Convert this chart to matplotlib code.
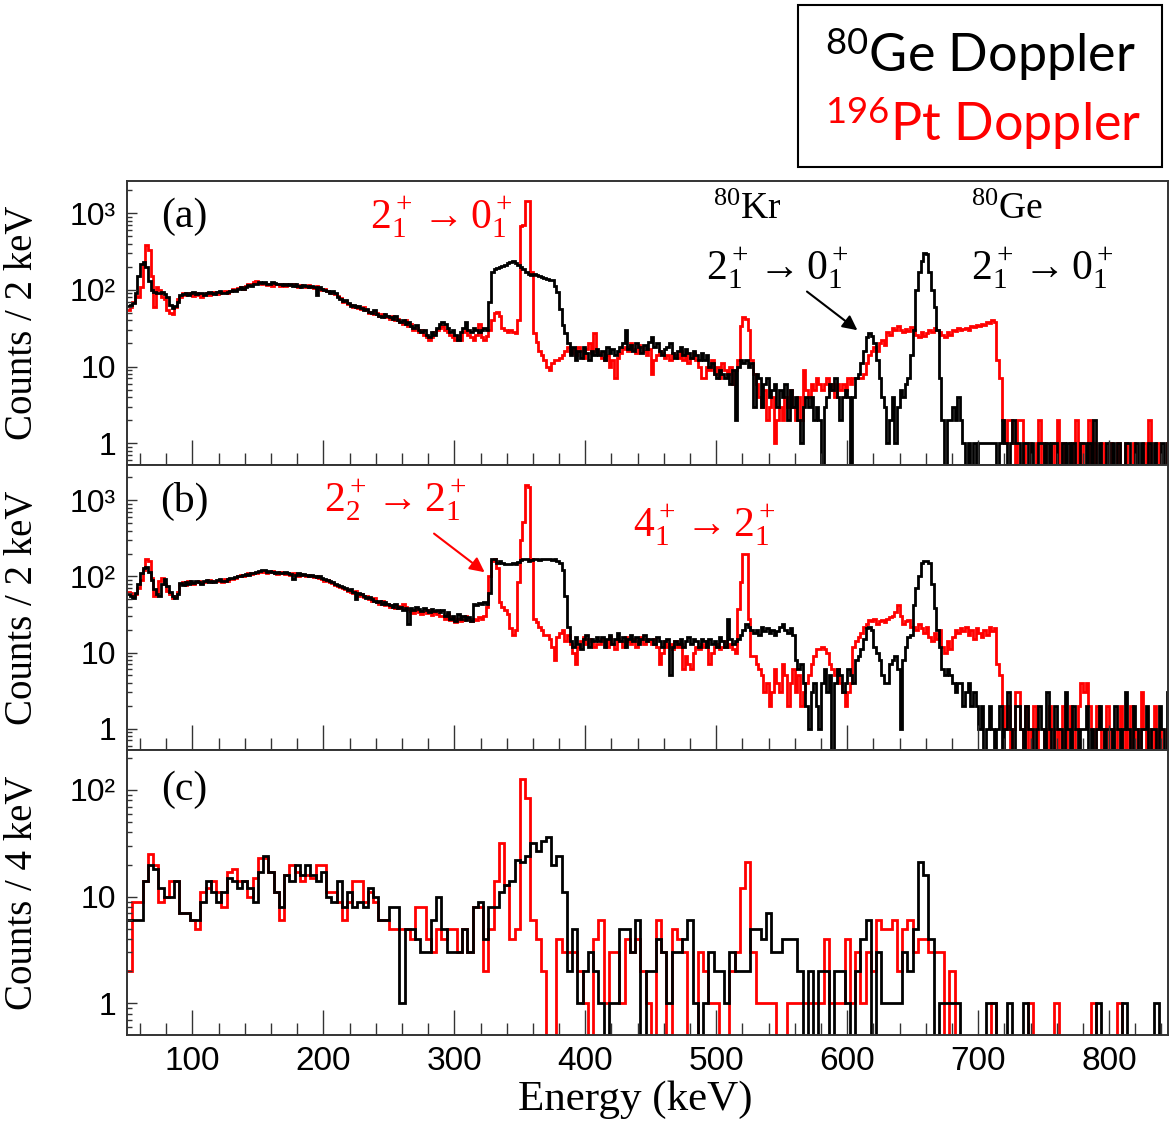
import numpy as np
import matplotlib.pyplot as plt
from matplotlib.patches import Rectangle
from matplotlib.ticker import MultipleLocator, LogLocator, NullFormatter

plt.rcParams['mathtext.fontset'] = 'custom'
plt.rcParams['mathtext.rm'] = 'Liberation Serif'
plt.rcParams['mathtext.it'] = 'Liberation Serif:italic'
plt.rcParams['mathtext.bf'] = 'Liberation Serif:bold'
plt.rcParams['mathtext.sf'] = 'Lato'

# bin edges (keV)
edges_2kev = np.arange(50, 851, 2)
edges_4kev = np.arange(50, 851, 4)

# (a) counts / 2 keV, 80Ge Doppler (black) and 196Pt Doppler (red)
ge_a = [62, 64, 68, 90, 150, 215, 230, 200, 130, 100, 95, 92, 90, 95, 88, 80, 64, 58, 62, 70,
        85, 88, 92, 86, 90, 95, 88, 92, 90, 86, 92, 95, 90, 88, 93, 96, 92, 90, 95, 98,
        100, 98, 104, 108, 102, 110, 115, 112, 120, 118, 125, 122, 128, 120, 118, 125, 122, 118, 120, 115,
        118, 115, 120, 112, 118, 114, 110, 116, 112, 108, 112, 110, 86, 108, 104, 100, 96, 92, 98, 90,
        80, 75, 72, 74, 68, 62, 64, 60, 62, 58, 55, 57, 52, 50, 54, 48, 46, 44, 48, 45,
        44, 42, 45, 40, 38, 40, 36, 38, 34, 32, 35, 30, 28, 30, 26, 24, 28, 26, 32, 36,
        38, 36, 32, 28, 30, 26, 22, 28, 32, 38, 30, 28, 32, 30, 28, 30, 32, 30, 70, 170,
        185, 192, 198, 205, 212, 222, 232, 236, 225, 212, 196, 190, 172, 160, 158, 162, 156, 152, 148, 142,
        138, 136, 135, 112, 93, 56, 35, 27, 20, 14, 18, 12, 16, 13, 18, 15, 12, 16, 14, 17,
        14, 16, 12, 18, 15, 17, 14, 16, 18, 20, 30, 17, 19, 16, 20, 18, 15, 19, 17, 21,
        24, 18, 20, 16, 14, 17, 18, 20, 15, 13, 16, 18, 14, 17, 15, 13, 16, 14, 12, 15,
        12, 14, 10, 11, 8, 7, 9, 8, 7, 8, 6, 9, 2, 10, 12, 11, 12, 10, 11, 3,
        8, 7, 3, 6, 7, 4, 5, 6, 3, 5, 4, 6, 2, 5, 3, 4, 2, 1, 3, 4,
        3, 4, 2, 3, 2, 0, 3, 4, 6, 5, 7, 4, 2, 4, 5, 4, 0, 4, 7, 8,
        11, 16, 24, 27, 25, 20, 12, 7, 4, 3, 1, 2, 4, 1, 3, 5, 4, 6, 7, 14,
        30, 100, 170, 240, 300, 290, 170, 100, 60, 30, 7, 2, 0, 2, 2, 3, 2, 4, 2, 1,
        0, 1, 0, 1, 0, 1, 1, 1, 1, 1, 1, 1, 0, 1, 2, 1, 0, 1, 2, 1,
        1, 0, 1, 1, 0, 1, 0, 0, 1, 1, 0, 1, 0, 1, 1, 0, 0, 1, 0, 1,
        0, 1, 0, 0, 1, 1, 0, 1, 0, 2, 0, 1, 0, 0, 1, 0, 1, 0, 1, 0,
        0, 1, 1, 0, 0, 1, 0, 1, 0, 0, 1, 0, 1, 0, 0, 1, 0, 1, 1, 0]
pt_a = [55, 60, 70, 82, 80, 110, 220, 380, 330, 150, 60, 110, 100, 80, 75, 55, 50, 48, 60, 75,
        80, 90, 85, 92, 88, 84, 90, 85, 80, 88, 92, 86, 90, 95, 88, 90, 94, 98, 92, 96,
        102, 100, 106, 110, 104, 112, 118, 120, 126, 130, 124, 118, 122, 116, 120, 112, 118, 120, 114, 118,
        112, 118, 115, 120, 114, 110, 116, 112, 108, 115, 110, 106, 112, 104, 100, 104, 98, 95, 92, 88,
        82, 78, 70, 72, 66, 64, 60, 62, 58, 56, 60, 54, 50, 52, 48, 50, 46, 48, 44, 46,
        42, 45, 40, 42, 38, 36, 40, 34, 36, 30, 32, 28, 30, 26, 24, 22, 24, 28, 30, 32,
        34, 30, 28, 26, 24, 22, 25, 22, 28, 30, 26, 24, 22, 26, 36, 24, 22, 25, 30, 40,
        50, 52, 45, 32, 30, 28, 30, 28, 27, 40, 690, 700, 1450, 1450, 173, 27, 21, 16, 14, 12,
        10, 9, 11, 12, 12, 13, 14, 16, 18, 15, 17, 14, 18, 16, 13, 17, 20, 15, 27, 16,
        15, 13, 12, 14, 10, 12, 7, 13, 15, 17, 18, 16, 20, 17, 15, 19, 18, 16, 14, 17,
        8, 12, 14, 16, 15, 13, 14, 12, 15, 14, 13, 16, 12, 14, 11, 13, 15, 12, 10, 7,
        7, 10, 9, 12, 8, 10, 7, 11, 9, 8, 10, 6, 9, 12, 34, 44, 42, 30, 12, 8,
        6, 4, 3, 5, 2, 3, 4, 1, 2, 3, 2, 4, 3, 5, 3, 2, 4, 2, 9, 5,
        4, 6, 5, 7, 6, 5, 6, 7, 5, 6, 4, 6, 5, 6, 5, 7, 6, 7, 7, 7,
        7, 8, 11, 14, 16, 18, 16, 20, 22, 19, 28, 26, 32, 30, 34, 30, 28, 31, 29, 33,
        30, 26, 24, 28, 25, 27, 30, 28, 32, 30, 28, 26, 24, 28, 26, 30, 29, 32, 30, 31,
        32, 30, 34, 33, 35, 34, 36, 35, 38, 37, 40, 38, 12, 7, 2, 1, 2, 2, 1, 0,
        2, 2, 0, 1, 1, 0, 0, 1, 2, 0, 1, 0, 0, 1, 0, 2, 0, 1, 0, 0,
        1, 0, 2, 0, 1, 0, 0, 2, 0, 1, 0, 0, 1, 0, 0, 1, 0, 0, 1, 0,
        0, 1, 0, 0, 1, 0, 0, 0, 1, 0, 2, 0, 0, 1, 0, 0, 0, 1, 0, 0]

# (b) counts / 2 keV
ge_b = [58, 56, 52, 60, 80, 110, 130, 135, 115, 90, 68, 58, 55, 80, 92, 75, 62, 55, 52, 58,
        82, 78, 84, 80, 86, 82, 88, 84, 80, 86, 90, 85, 88, 84, 90, 92, 88, 86, 92, 95,
        95, 98, 102, 100, 105, 108, 104, 110, 112, 115, 118, 122, 120, 116, 118, 114, 112, 116, 110, 112,
        114, 110, 108, 92, 106, 110, 104, 108, 106, 102, 104, 100, 98, 100, 96, 94, 90, 86, 84, 80,
        78, 74, 72, 70, 66, 68, 62, 50, 60, 58, 55, 52, 54, 50, 48, 46, 48, 44, 46, 43,
        42, 40, 43, 38, 40, 36, 39, 24, 38, 36, 40, 37, 35, 38, 36, 34, 37, 35, 36, 34,
        36, 30, 34, 28, 30, 26, 32, 28, 30, 27, 29, 26, 44, 42, 45, 43, 46, 44, 60, 170,
        172, 150, 160, 150, 148, 146, 145, 150, 148, 155, 165, 170, 168, 160, 165, 168, 170, 166, 172, 170,
        168, 172, 165, 170, 160, 150, 120, 55, 22, 14, 12, 16, 13, 11, 15, 17, 12, 15, 14, 16,
        14, 16, 12, 15, 17, 13, 15, 18, 14, 16, 12, 15, 17, 14, 16, 13, 15, 17, 14, 15,
        15, 13, 16, 14, 12, 14, 15, 5, 12, 14, 13, 15, 12, 14, 16, 13, 15, 14, 12, 15,
        14, 12, 15, 13, 14, 12, 16, 14, 12, 28, 15, 13, 14, 15, 17, 20, 24, 22, 20, 18,
        20, 17, 22, 19, 21, 18, 20, 17, 19, 22, 24, 20, 18, 21, 17, 8, 6, 7, 4, 2,
        1, 3, 4, 2, 1, 4, 6, 3, 5, 0, 4, 6, 5, 3, 4, 6, 5, 4, 8, 9,
        11, 15, 21, 22, 20, 12, 10, 8, 5, 4, 4, 7, 8, 9, 6, 1, 8, 12, 16, 17,
        42, 70, 100, 150, 158, 158, 150, 80, 38, 20, 12, 6, 5, 6, 5, 4, 3, 4, 4, 2,
        3, 4, 2, 3, 2, 1, 2, 0, 1, 2, 1, 0, 1, 2, 0, 1, 3, 1, 0, 2,
        2, 1, 0, 2, 1, 1, 0, 1, 2, 1, 0, 3, 1, 0, 2, 1, 1, 0, 3, 1,
        0, 2, 1, 0, 1, 1, 2, 0, 1, 0, 1, 2, 1, 0, 1, 1, 0, 2, 1, 0,
        1, 3, 1, 0, 2, 1, 0, 1, 1, 2, 0, 1, 1, 0, 2, 1, 0, 3, 1, 0]
pt_b = [62, 60, 56, 58, 70, 90, 120, 170, 160, 95, 55, 62, 88, 96, 80, 64, 58, 52, 56, 62,
        80, 84, 78, 86, 82, 80, 85, 88, 82, 84, 86, 90, 84, 88, 86, 90, 85, 92, 88, 94,
        92, 96, 100, 104, 102, 106, 110, 108, 112, 110, 116, 118, 114, 112, 115, 118, 112, 108, 114, 110,
        108, 112, 106, 110, 104, 102, 108, 104, 100, 106, 102, 98, 100, 96, 92, 88, 90, 84, 82, 78,
        76, 72, 70, 68, 64, 62, 60, 64, 56, 58, 54, 56, 50, 48, 52, 46, 44, 48, 42, 44,
        40, 42, 38, 41, 39, 44, 40, 37, 35, 33, 36, 34, 32, 35, 33, 36, 31, 34, 32, 30,
        30, 28, 32, 27, 29, 25, 28, 26, 27, 30, 28, 26, 28, 27, 29, 28, 30, 40, 100, 160,
        170, 130, 46, 40, 36, 32, 21, 17, 20, 85, 300, 520, 1580, 1500, 171, 28, 25, 22, 20, 17,
        17, 15, 12, 8, 16, 18, 20, 14, 17, 13, 10, 7, 12, 14, 16, 13, 15, 14, 12, 13,
        13, 15, 14, 12, 16, 13, 11, 15, 14, 12, 16, 14, 13, 15, 12, 14, 16, 13, 15, 14,
        13, 15, 12, 7, 10, 14, 12, 13, 11, 14, 12, 13, 6, 9, 7, 6, 10, 12, 11, 13,
        12, 14, 7, 10, 12, 13, 11, 12, 14, 12, 13, 11, 10, 37, 85, 200, 200, 28, 9, 9,
        7, 6, 5, 3, 4, 2, 3, 6, 4, 3, 7, 5, 2, 4, 6, 3, 5, 2, 3, 4,
        5, 7, 9, 11, 11, 12, 11, 10, 7, 6, 5, 6, 4, 3, 2, 3, 4, 12, 14, 16,
        18, 22, 24, 27, 26, 28, 24, 26, 27, 25, 28, 29, 30, 34, 42, 30, 24, 26, 27, 22,
        22, 20, 24, 21, 18, 22, 16, 14, 18, 15, 20, 12, 10, 14, 11, 16, 20, 18, 21, 19,
        22, 17, 20, 15, 21, 18, 16, 20, 17, 22, 19, 21, 7, 5, 2, 1, 2, 0, 1, 3,
        3, 1, 0, 2, 0, 1, 2, 1, 0, 0, 1, 0, 2, 1, 0, 1, 0, 2, 0, 1,
        2, 0, 1, 2, 4, 3, 4, 2, 1, 0, 2, 1, 0, 1, 2, 0, 1, 0, 1, 2,
        0, 1, 0, 2, 0, 1, 0, 3, 1, 0, 1, 0, 2, 0, 1, 0, 0, 1, 0, 0]

# (c) counts / 4 keV
ge_c = [6, 6, 6, 14, 20, 18, 12, 10, 10, 14, 7, 7, 6, 6, 9, 14, 11, 9, 11, 15,
        14, 12, 14, 12, 9, 17, 24, 17, 11, 8, 16, 14, 20, 16, 20, 16, 14, 17, 10, 9,
        14, 8, 11, 8, 9, 8, 12, 10, 6, 6, 8, 8, 1, 5, 5, 4, 3, 3, 6, 10,
        5, 3, 3, 3, 5, 3, 8, 9, 4, 8, 8, 11, 13, 14, 22, 21, 24, 32, 27, 33,
        36, 20, 24, 11, 2, 5, 1, 2, 3, 2, 1, 0, 1, 1, 5, 5, 3, 6, 0, 2,
        2, 4, 3, 1, 3, 3, 4, 6, 1, 0, 1, 3, 2, 2, 1, 3, 2, 2, 2, 5,
        5, 4, 7, 3, 3, 4, 4, 4, 2, 0, 2, 0, 2, 2, 0, 2, 2, 1, 0, 2,
        4, 6, 0, 3, 1, 1, 1, 1, 3, 2, 5, 21, 16, 4, 0, 1, 1, 1, 1, 0,
        0, 0, 0, 0, 1, 1, 0, 0, 1, 0, 0, 1, 0, 0, 0, 0, 0, 0, 0, 0,
        0, 0, 0, 0, 0, 1, 0, 0, 0, 0, 1, 0, 0, 0, 0, 0, 1, 0, 0, 0]
pt_c = [2, 9, 9, 14, 25, 20, 9, 10, 14, 14, 7, 7, 6, 5, 11, 12, 14, 11, 8, 17,
        18, 14, 14, 10, 15, 23, 23, 17, 11, 6, 16, 20, 17, 14, 16, 15, 20, 20, 11, 11,
        9, 6, 9, 14, 14, 9, 11, 9, 6, 6, 5, 5, 5, 5, 4, 8, 8, 4, 3, 5,
        4, 5, 5, 3, 5, 3, 8, 8, 2, 5, 14, 32, 13, 4, 5, 126, 85, 6, 4, 2,
        0, 0, 4, 3, 3, 3, 2, 1, 0, 4, 6, 1, 3, 3, 1, 4, 3, 4, 2, 1,
        0, 6, 3, 0, 5, 4, 3, 0, 0, 3, 2, 1, 1, 0, 0, 2, 3, 12, 21, 3,
        1, 1, 1, 1, 0, 0, 1, 1, 1, 1, 1, 1, 1, 4, 1, 1, 1, 4, 1, 3,
        1, 3, 2, 6, 5, 5, 6, 2, 5, 6, 3, 4, 4, 3, 3, 3, 0, 2, 0, 0,
        0, 0, 0, 0, 0, 1, 0, 0, 0, 0, 0, 0, 1, 0, 0, 0, 0, 1, 0, 0,
        0, 0, 0, 0, 1, 0, 0, 0, 0, 1, 0, 0, 0, 0, 0, 0, 0, 0, 0, 0]

serif = ['Liberation Serif', 'DejaVu Serif']
sans = ['Liberation Sans', 'DejaVu Sans']
RED = '#ff0000'


def hist(ax, edges, counts, color):
    v = np.array(counts, dtype=float)
    v[v <= 0] = 0.05  # empty bins drop below the axis
    ax.stairs(v, edges, color=color, lw=2.0, baseline=None)


def style(ax, ylim, yticks, ylabels, ylabel, bottom=False):
    ax.set_yscale('log')
    ax.set_xlim(50, 845)
    ax.set_ylim(*ylim)
    ax.set_yticks(yticks)
    ax.set_yticklabels(ylabels, fontfamily=sans, fontsize=23)
    ax.yaxis.set_minor_locator(LogLocator(base=10, subs=np.arange(2, 10)))
    ax.yaxis.set_minor_formatter(NullFormatter())
    ax.xaxis.set_major_locator(MultipleLocator(100))
    ax.xaxis.set_minor_locator(MultipleLocator(20))
    ax.tick_params(axis='x', which='major', direction='in', length=18, width=1.0,
                   color='#333333', labelbottom=bottom, labelsize=24, pad=8)
    ax.tick_params(axis='x', which='minor', direction='in', length=8.5, width=1.0, color='#333333')
    ax.tick_params(axis='y', which='major', direction='in', length=7, width=1.0,
                   color='#333333', pad=8)
    ax.tick_params(axis='y', which='minor', direction='in', length=3.5, width=1.0, color='#333333')
    for s in ax.spines.values():
        s.set_color('#333333')
        s.set_linewidth(1.4)
    ax.set_ylabel(ylabel, fontfamily=serif, fontsize=28)
    ax.yaxis.set_label_coords(-0.083, 0.5)
    if bottom:
        for lab in ax.get_xticklabels():
            lab.set_fontfamily(sans)


fig = plt.figure(figsize=(11.7, 11.21), dpi=100)
left, width = 127 / 1170, 1041 / 1170
ax_a = fig.add_axes([left, 1 - 465 / 1121, width, 284 / 1121])
ax_b = fig.add_axes([left, 1 - 750 / 1121, width, 285 / 1121])
ax_c = fig.add_axes([left, 1 - 1035 / 1121, width, 285 / 1121])

hist(ax_a, edges_2kev, pt_a, RED)
hist(ax_a, edges_2kev, ge_a, 'black')
hist(ax_b, edges_2kev, pt_b, RED)
hist(ax_b, edges_2kev, ge_b, 'black')
hist(ax_c, edges_4kev, pt_c, RED)
hist(ax_c, edges_4kev, ge_c, 'black')

style(ax_a, (0.52, 2630), [1, 10, 100, 1000], ['1', '10', '10²', '10³'], 'Counts / 2 keV')
style(ax_b, (0.525, 2914), [1, 10, 100, 1000], ['1', '10', '10²', '10³'], 'Counts / 2 keV')
style(ax_c, (0.505, 237), [1, 10, 100], ['1', '10', '10²'], 'Counts / 4 keV', bottom=True)
ax_c.set_xlabel('Energy (keV)', fontfamily=serif, fontsize=31)
ax_c.xaxis.set_label_coords(0.488, -0.16)

# panel letters
for ax, lab, y in [(ax_a, '(a)', 890), (ax_b, '(b)', 955), (ax_c, '(c)', 100)]:
    ax.text(94, y, lab, fontfamily=serif, fontsize=30, ha='center', va='center')

trans = r'$%s_%s^+\rightarrow%s_1^+$'
ax_a.text(290, 890, trans % ('2', '1', '0'), color=RED, fontsize=30, ha='center', va='center')
ax_a.text(524, 1100, r'$^{80}$Kr', fontfamily=serif, fontsize=27, ha='center', va='center')
ax_a.text(547, 192, trans % ('2', '1', '0'), color='black', fontsize=30, ha='center', va='center')
ax_a.text(722, 1100, r'$^{80}$Ge', fontfamily=serif, fontsize=27, ha='center', va='center')
ax_a.text(749, 192, trans % ('2', '1', '0'), color='black', fontsize=30, ha='center', va='center')
ax_a.annotate('', xy=(609.5, 28.3), xytext=(567.6, 100),
              arrowprops=dict(arrowstyle='-|>', color='black', lw=1.5, mutation_scale=22))

ax_b.text(255, 1010, trans % ('2', '2', '2'), color=RED, fontsize=30, ha='center', va='center')
ax_b.text(491, 475, trans % ('4', '1', '2'), color=RED, fontsize=30, ha='center', va='center')
ax_b.annotate('', xy=(324.8, 108), xytext=(282.8, 385),
              arrowprops=dict(arrowstyle='-|>', color=RED, lw=1.5, mutation_scale=22))

# legend box
fig.patches.append(Rectangle((798 / 1170, 1 - 167 / 1121), 364 / 1170, 162 / 1121,
                             transform=fig.transFigure, fill=False, ec='black', lw=1.5))
fig.text(825 / 1170, 1 - 72 / 1121, r'$^{\mathsf{80}}$Ge Doppler', fontfamily='Lato',
         fontsize=37.5, color='black', ha='left', va='baseline')
fig.text(825 / 1170, 1 - 141 / 1121, r'$^{\mathsf{196}}$Pt Doppler', fontfamily='Lato',
         fontsize=37.5, color=RED, ha='left', va='baseline')

fig.savefig('out.png', dpi=100)
